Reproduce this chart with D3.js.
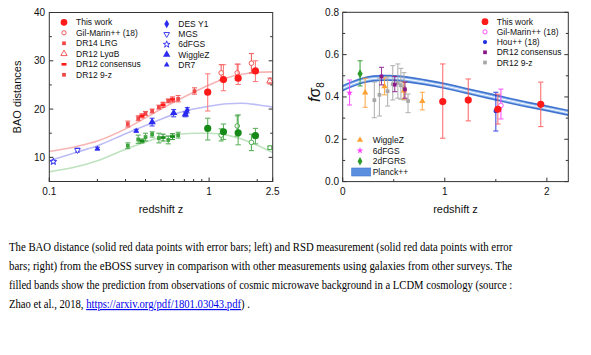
<!DOCTYPE html>
<html><head><meta charset="utf-8">
<script src="https://cdn.jsdelivr.net/npm/d3@7"></script>
<style>body{margin:0;background:#fff}</style></head>
<body><svg id="c" width="591" height="355"></svg>
<script>
// ================= LEFT PANEL: BAO distances =================
const leftXTicks = [0.1, 1, 2.5];
const leftXTickLabels = ["0.1", "1", "2.5"];
const leftXMinor = [0.2,0.3,0.4,0.5,0.6,0.7,0.8,0.9,2];
const leftYTicks = [10, 20, 30, 40];
const leftYMinor = [5,15,25,35];
// theory curves
const curveZ     = [0.1, 0.15, 0.2, 0.3, 0.4, 0.5, 0.6, 0.8, 1.0, 1.3, 1.6, 2.0, 2.5];
const curveRed   = [11.2, 12.3, 13.4, 15.9, 18.2, 20.0, 21.4, 23.5, 25.0, 26.5, 27.2, 27.6, 27.7];
const curveBlue  = [9.3, 11.1, 12.4, 14.9, 16.6, 17.9, 18.9, 20.0, 20.6, 21.1, 21.2, 20.9, 20.4];
const curveGreen = [7.0, 8.1, 9.3, 11.7, 13.2, 14.1, 14.6, 15.0, 15.0, 14.6, 13.8, 12.5, 11.0];
// [z, value, low, high]
const redThisWork    = [[0.98,23.5,19.6,27.3],[1.23,26.1,23.8,29.2],[1.52,26.4,25.1,29.3],[1.95,27.9,25.7,30.0]];
const greenThisWork  = [[0.98,16.0,13.6,18.1],[1.23,15.3,13.7,16.9],[1.52,15.1,12.6,18.8],[1.95,14.5,12.8,16.0]];
const redGilMarin    = [[1.19,27.5,26.0,29.2],[1.50,27.5,26.0,29.3],[1.84,29.5,27.5,31.5]];
const greenGilMarin  = [[1.19,14.6,13.4,15.9],[1.50,16.5,14.4,18.6],[1.84,13.1,11.4,14.8]];
const redLyaB        = [[2.4,25.8,25.2,26.4]];
const greenLyaB      = [[2.4,12.0,11.7,12.3]];
const redDR14        = [[0.81,23.7,23.1,24.4]];
const red9z          = [[0.31,16.9,16.3,17.5],[0.36,18.1,17.6,18.6],[0.40,19.1,18.7,19.5],[0.44,19.6,19.2,20.0],[0.485,20.4,20.0,20.8],[0.555,21.7,21.3,22.1],[0.64,22.1,21.5,22.8]];
const redConsensus   = [[0.38,18.6,18.2,19.0],[0.515,20.9,20.4,21.4],[0.59,22.0,21.5,22.5]];
const green9z        = [[0.31,12.4,11.8,13.0],[0.36,13.7,12.9,14.6],[0.40,14.2,13.4,15.0],[0.44,14.8,14.2,15.3],[0.485,14.0,13.0,15.0],[0.555,13.6,12.8,14.4],[0.64,14.6,14.0,15.2]];
const greenConsensus = [[0.38,13.4,13.0,13.8],[0.515,14.1,13.4,14.8],[0.59,14.3,13.7,14.9]];
const blue6dF        = [[0.106,9.1,8.8,9.4]];
const blueMGS        = [[0.15,11.5,11.1,11.9]];
const blueDR7        = [[0.2,11.8,11.5,12.1],[0.35,15.5,15.2,15.8]];
const blueWiggleZ    = [[0.44,17.3,16.5,18.1],[0.6,19.2,18.4,19.9],[0.71,18.9,18.4,19.4]];
const blueDES        = [[0.73,19.7,19.2,20.3]];

// ================= RIGHT PANEL: f sigma8 =================
const rightXTicks = [0, 1, 2];
const rightXMinor = [0.5, 1.5];
const rightYTicks = [0, 0.2, 0.4, 0.6, 0.8];
const rightYMinor = [0.1, 0.3, 0.5, 0.7];
const planckZ = [0, 0.1, 0.2, 0.3, 0.4, 0.5, 0.6, 0.8, 1.0, 1.2, 1.4, 1.6, 1.8, 2.0, 2.21];
const planckF = [0.441, 0.462, 0.478, 0.487, 0.490, 0.489, 0.485, 0.470, 0.452, 0.430, 0.408, 0.386, 0.365, 0.346, 0.325];
const planckHalfWidth = 0.015;
const rsdThisWork  = [[0.98,0.378,0.205,0.556],[1.23,0.385,0.287,0.485],[1.52,0.342,0.272,0.413],[1.94,0.365,0.26,0.47]];
const rsdGilMarin  = [[1.55,0.36,0.296,0.437]];
const rsdHou       = [[1.50,0.334,0.239,0.422]];
const rsdConsensus = [[0.38,0.497,0.457,0.540],[0.51,0.458,0.425,0.497],[0.61,0.436,0.394,0.470]];
const rsd9z        = [[0.31,0.385,0.302,0.470],[0.36,0.41,0.31,0.49],[0.44,0.427,0.357,0.496],[0.49,0.46,0.386,0.548],[0.54,0.466,0.394,0.556],[0.57,0.455,0.389,0.535],[0.60,0.442,0.386,0.515],[0.64,0.381,0.326,0.414]];
const rsdWiggleZ   = [[0.22,0.42,0.351,0.488],[0.41,0.45,0.41,0.49],[0.6,0.43,0.39,0.47],[0.78,0.38,0.339,0.422]];
const rsd6dF       = [[0.067,0.42,0.362,0.48]];
const rsd2dF       = [[0.17,0.51,0.452,0.571]];

const captionLines = [
 "The BAO distance (solid red data points with error bars; left) and RSD measurement (solid red data points with error",
 "bars; right) from the eBOSS survey in comparison with other measurements using galaxies from other surveys. The",
 "filled bands show the prediction from observations of cosmic microwave background in a LCDM cosmology (source :"
];
const captionLastPre = "Zhao et al., 2018, ";
const captionLink = "https://arxiv.org/pdf/1801.03043.pdf";
const captionLastPost = ") .";

// ================= drawing =================
const svg = d3.select("#c");
svg.append("rect").attr("width",591).attr("height",355).attr("fill","#fff");
const SANS = "'Liberation Sans', Arial, sans-serif";

const RED="#ff1a1a", RED2="#f04848", BLUE="#2a2af0", GREEN="#168a16", GREEN2="#3ea43e";
const MAG="#ff40ff", PURP="#8a1a8a", GREY="#a8a8a8", ORANGE="#ffa033", GRN="#2a9a2a", BLU2="#2233dd";

function marker(g, type, x, y, color, s){
  s = s || 1;
  const sym = {circle:d3.symbolCircle, square:d3.symbolSquare, tri:d3.symbolTriangle,
               star:d3.symbolStar, diamond:d3.symbolDiamond, cross:d3.symbolCross};
  if (type==="bar"){
    g.append("rect").attr("x",x-2.5*s).attr("y",y-1.3*s).attr("width",5*s).attr("height",2.6*s).attr("fill",color);
    return;
  }
  let t = type, open=false, rot=0;
  if (t.startsWith("o")) { open=true; t=t.slice(1); }
  if (t==="dtri"){ t="tri"; rot=180; }
  const areas = {circle:14, square:14, tri:14, star:14, diamond:14, cross:16};
  const p = g.append("path").attr("d", d3.symbol().type(sym[t]).size(areas[t]*s*s)())
    .attr("transform",`translate(${x},${y}) rotate(${rot})`);
  if (open) p.attr("fill","#fff").attr("stroke",color).attr("stroke-width",0.9);
  else p.attr("fill",color);
}

function errPoints(g, data, xs, ys, type, color, s, ecolor, cap){
  cap = cap||2.5;
  data.forEach(d=>{
    const x=xs(d[0]);
    const e=g.append("g").attr("stroke",ecolor||color).attr("stroke-width",1.1).attr("opacity",0.85);
    e.append("line").attr("x1",x).attr("x2",x).attr("y1",ys(d[2])).attr("y2",ys(d[3]));
    e.append("line").attr("x1",x-cap).attr("x2",x+cap).attr("y1",ys(d[2])).attr("y2",ys(d[2]));
    e.append("line").attr("x1",x-cap).attr("x2",x+cap).attr("y1",ys(d[3])).attr("y2",ys(d[3]));
    marker(g,type,x,ys(d[1]),color,s);
  });
}

function frame(g, x0,x1,y0,y1){
  g.append("rect").attr("x",x0).attr("y",y1).attr("width",x1-x0).attr("height",y0-y1)
   .attr("fill","none").attr("stroke","#333").attr("stroke-width",1);
}

// ---------- left ----------
{
  const x = d3.scaleLog().domain([0.1,2.5]).range([49.3,272.7]);
  const y = d3.scaleLinear().domain([5,40]).range([181.5,12.5]);
  const g = svg.append("g");
  const line = d3.line().x((d,i)=>x(curveZ[i])).y(d=>y(d)).curve(d3.curveMonotoneX);
  [[curveRed,"#f7b4b4"],[curveBlue,"#bcbcf6"],[curveGreen,"#bfe3bf"]].forEach(([c,col])=>{
    g.append("path").attr("d",line(c)).attr("fill","none").attr("stroke",col).attr("stroke-width",1.6);
  });
  // data
  errPoints(g, blue6dF, x,y,"ostar",BLUE,1);
  errPoints(g, blueMGS, x,y,"odtri",BLUE,1);
  errPoints(g, blueDR7, x,y,"tri",BLUE,1);
  errPoints(g, blueWiggleZ, x,y,"tri",BLUE,1.3);
  errPoints(g, blueDES, x,y,"diamond",BLUE,1.2);
  errPoints(g, red9z, x,y,"square",RED2,1);
  errPoints(g, redConsensus, x,y,"bar",RED,1);
  errPoints(g, redDR14, x,y,"square",RED2,1);
  errPoints(g, green9z, x,y,"square",GREEN2,1);
  errPoints(g, greenConsensus, x,y,"bar",GREEN,1);
  errPoints(g, redLyaB, x,y,"otri",RED2,1.1);
  errPoints(g, greenLyaB, x,y,"osquare",GREEN2,1);
  errPoints(g, redGilMarin, x,y,"ocircle",RED2,1.1);
  errPoints(g, greenGilMarin, x,y,"ocircle",GREEN2,1.1);
  errPoints(g, redThisWork, x,y,"circle",RED,1.7,"#ff6a6a",2.7);
  errPoints(g, greenThisWork, x,y,"circle",GREEN,1.7,"#4aa84a",2.7);
  frame(g,49.3,272.7,181.5,12.5);
  const ax = g.append("g").attr("stroke","#333").attr("stroke-width",1);
  leftXTicks.concat(leftXMinor).forEach(t=>{
    const L = leftXTicks.includes(t)?4:2.5;
    ax.append("line").attr("x1",x(t)).attr("x2",x(t)).attr("y1",181.5).attr("y2",181.5-L);
  });
  leftYTicks.concat(leftYMinor).forEach(t=>{
    const L = leftYTicks.includes(t)?4:2.5;
    ax.append("line").attr("x1",49.3).attr("x2",49.3+L).attr("y1",y(t)).attr("y2",y(t));
    ax.append("line").attr("x1",272.7).attr("x2",272.7-L).attr("y1",y(t)).attr("y2",y(t));
  });
  leftXTicks.forEach((t,i)=>g.append("text").attr("x",x(t)).attr("y",195).attr("text-anchor","middle")
    .attr("font-family",SANS).attr("font-size",10).attr("fill","#111").text(leftXTickLabels[i]));
  leftYTicks.forEach(t=>g.append("text").attr("x",45).attr("y",y(t)+3.5).attr("text-anchor","end")
    .attr("font-family",SANS).attr("font-size",10).attr("fill","#111").text(t));
  g.append("text").attr("x",161).attr("y",213).attr("text-anchor","middle").attr("font-family",SANS)
    .attr("font-size",11).attr("fill","#111").text("redshift z");
  g.append("text").attr("transform","translate(21,97) rotate(-90)").attr("text-anchor","middle")
    .attr("font-family",SANS).attr("font-size",11).attr("fill","#111").text("BAO distances");
  // legend
  const leg1 = [["circle","This work",RED,1.6],["ocircle","Gil-Marin++ (18)",RED2,1],["square","DR14 LRG",RED2,1],
                ["otri","DR12 Ly\u03b1B",RED2,1.1],["bar","DR12 consensus",RED,1],["square","DR12 9-z",RED2,1]];
  const leg2 = [["diamond","DES Y1",BLUE,1.2],["odtri","MGS",BLUE,1],["ostar","6dFGS",BLUE,1],
                ["tri","WiggleZ",BLUE,1.3],["tri","DR7",BLUE,1]];
  leg1.forEach((d,i)=>{const yy=22.3+i*10.5; marker(g,d[0],64,yy,d[2],d[3]);
    g.append("text").attr("x",76).attr("y",yy+3).attr("font-family",SANS).attr("font-size",8.5).attr("fill","#111").text(d[1]);});
  leg2.forEach((d,i)=>{const yy=24+i*10.2; marker(g,d[0],166.7,yy,d[2],d[3]);
    g.append("text").attr("x",178.3).attr("y",yy+3).attr("font-family",SANS).attr("font-size",8.5).attr("fill","#111").text(d[1]);});
}

// ---------- right ----------
{
  const x = d3.scaleLinear().domain([0,2.21]).range([342.7,568.3]);
  const y = d3.scaleLinear().domain([0,0.8]).range([181.6,12.3]);
  const g = svg.append("g");
  const band = d3.area().x((d,i)=>x(planckZ[i])).y0(d=>y(d-planckHalfWidth)).y1(d=>y(d+planckHalfWidth)).curve(d3.curveMonotoneX);
  const cl = d3.line().x((d,i)=>x(planckZ[i])).y(d=>y(d)).curve(d3.curveMonotoneX);
  g.append("path").attr("d",band(planckF)).attr("fill","#3f73cf");
  g.append("path").attr("d",cl(planckF)).attr("fill","none").attr("stroke","#9cc0f0").attr("stroke-width",3);
  g.append("path").attr("d",cl(planckF)).attr("fill","none").attr("stroke","#ffffff").attr("stroke-width",1);
  errPoints(g, rsd9z, x,y,"square",GREY,1);
  errPoints(g, rsdWiggleZ, x,y,"tri",ORANGE,1.1);
  errPoints(g, rsdConsensus, x,y,"square",PURP,1);
  errPoints(g, rsd6dF, x,y,"star",MAG,1);
  errPoints(g, rsd2dF, x,y,"diamond",GRN,1.3);
  errPoints(g, rsdHou, x,y,"circle",BLU2,1.1);
  errPoints(g, rsdGilMarin, x,y,"ocircle",MAG,1.1);
  errPoints(g, rsdThisWork, x,y,"circle",RED,1.7,"#ff5a5a",2.7);
  frame(g,342.7,568.3,181.6,12.3);
  const ax = g.append("g").attr("stroke","#333").attr("stroke-width",1);
  rightXTicks.concat(rightXMinor).forEach(t=>{
    const L = rightXTicks.includes(t)?4:2.5;
    ax.append("line").attr("x1",x(t)).attr("x2",x(t)).attr("y1",181.6).attr("y2",181.6-L);
  });
  rightYTicks.concat(rightYMinor).forEach(t=>{
    const L = rightYTicks.includes(t)?4:2.5;
    ax.append("line").attr("x1",342.7).attr("x2",342.7+L).attr("y1",y(t)).attr("y2",y(t));
    ax.append("line").attr("x1",568.3).attr("x2",568.3-L).attr("y1",y(t)).attr("y2",y(t));
  });
  rightXTicks.forEach(t=>g.append("text").attr("x",x(t)).attr("y",195).attr("text-anchor","middle")
    .attr("font-family",SANS).attr("font-size",10).attr("fill","#111").text(t));
  rightYTicks.forEach(t=>g.append("text").attr("x",339).attr("y",y(t)+3.5).attr("text-anchor","end")
    .attr("font-family",SANS).attr("font-size",10).attr("fill","#111").text(d3.format(".1f")(t)));
  g.append("text").attr("x",455.5).attr("y",213).attr("text-anchor","middle").attr("font-family",SANS)
    .attr("font-size",11).attr("fill","#111").text("redshift z");
  const yl = g.append("text").attr("transform","translate(320,92) rotate(-90)").attr("text-anchor","middle")
    .attr("font-family",SANS).attr("font-size",16).attr("fill","#111");
  yl.append("tspan").attr("font-style","italic").text("f");
  yl.append("tspan").text("\u03c3");
  yl.append("tspan").attr("font-size",10).attr("dy",4).text("8");
  // legends
  const legA = [["circle","This work",RED,1.6],["ocircle","Gil-Marin++ (18)",MAG,1],["circle","Hou++ (18)",BLU2,1],
                ["square","DR12 consensus",PURP,1],["square","DR12 9-z",GREY,1]];
  legA.forEach((d,i)=>{const yy=21.7+i*10.2; marker(g,d[0],485,yy,d[2],d[3]);
    g.append("text").attr("x",496.7).attr("y",yy+3).attr("font-family",SANS).attr("font-size",8.5).attr("fill","#111").text(d[1]);});
  const legB = [["tri","WiggleZ",ORANGE,1.1],["star","6dFGS",MAG,1],["diamond","2dFGRS",GRN,1.2]];
  legB.forEach((d,i)=>{const yy=140+i*10.6; marker(g,d[0],360,yy,d[2],d[3]);
    g.append("text").attr("x",372.7).attr("y",yy+3).attr("font-family",SANS).attr("font-size",8.5).attr("fill","#111").text(d[1]);});
  g.append("rect").attr("x",351.7).attr("y",168).attr("width",19).attr("height",8).attr("fill","#5a8fe0").attr("stroke","#3f73cf").attr("stroke-width",0.6);
  g.append("text").attr("x",372.7).attr("y",174.5).attr("font-family",SANS).attr("font-size",8.5).attr("fill","#111").text("Planck++");
}

// ---------- caption (horizontally scaled to fit the reference's condensed widths) ----------
{
  const SERIF = "'Liberation Serif', 'Times New Roman', serif";
  const base=[251,270,289,308];
  function fitText(sel, target, yb){
    const w = sel.node().getComputedTextLength();
    sel.attr("transform",`translate(9,${yb}) scale(${target/w},1)`);
  }
  captionLines.forEach((t,i)=>{
    const s = svg.append("text").attr("x",0).attr("y",0).attr("font-family",SERIF).attr("font-size",11.5)
      .attr("fill","#000").text(t);
    fitText(s, 504, base[i]);
  });
  const last = svg.append("text").attr("x",0).attr("y",0).attr("font-family",SERIF).attr("font-size",11.5)
    .attr("fill","#000");
  last.append("tspan").text(captionLastPre);
  last.append("tspan").attr("fill","#0000ee").attr("text-decoration","underline").text(captionLink);
  last.append("tspan").text(captionLastPost);
  fitText(last, 241, base[3]);
}
</script></body></html>
